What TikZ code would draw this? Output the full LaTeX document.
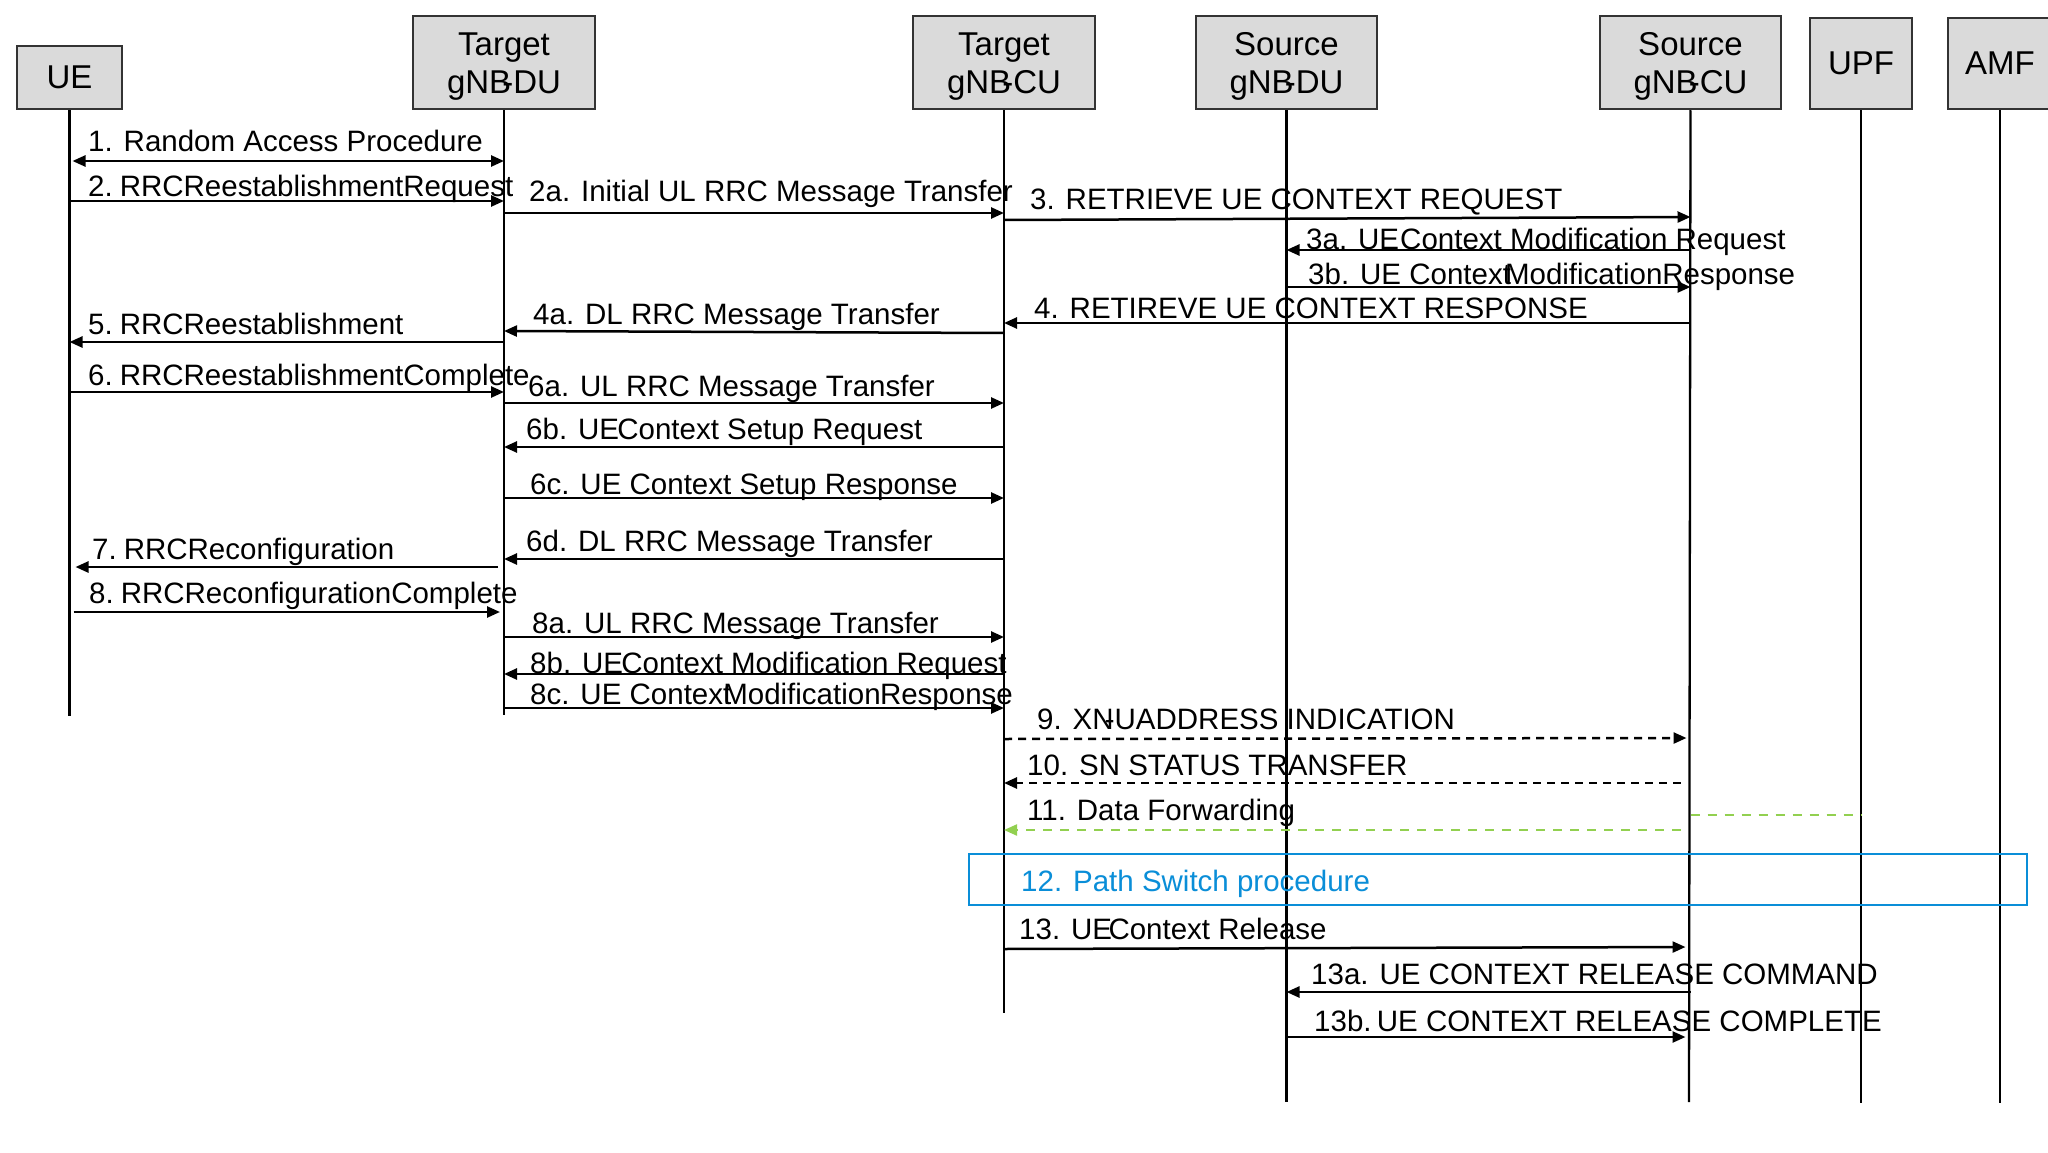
\documentclass[tikz,border=0pt]{standalone}
\usepackage{fontspec}
\setmainfont{Liberation Sans}
\usetikzlibrary{arrows.meta}
\definecolor{boxfill}{HTML}{DADADA}
\definecolor{boxline}{HTML}{333333}
\definecolor{fwdgreen}{HTML}{92D050}
\definecolor{psblue}{HTML}{0A8ED8}
\newcommand{\twoline}[2]{\raisebox{-4pt}[\height][\depth]{\begin{tabular}{@{}c@{}}#1\\#2\end{tabular}}}
\begin{document}
\begin{tikzpicture}[x=1pt,y=-1pt,
  ent/.style={draw=boxline, fill=boxfill, line width=2.5pt, inner sep=0pt, align=center, font=\fontsize{33}{38}\selectfont},
  life/.style={line width=2.3pt},
  msg/.style={line width=2.5pt, -{Triangle[length=13pt,width=11pt]}},
  dmsg/.style={msg, dash pattern=on 8pt off 6pt},
  gmsg/.style={line width=2.2pt, draw=fwdgreen, dash pattern=on 9pt off 8pt, -{Triangle[length=13pt,width=11pt]}},
  lbl/.style={anchor=base west, inner sep=0pt, font=\fontsize{29.5}{32}\selectfont}]
\fill[white] (0,0) rectangle (2048,1153);
\useasboundingbox (0,0) rectangle (2048,1153);

% entities
\node[ent, minimum width=105pt, minimum height=63pt] (ue) at (69.5,77.5) {UE};
\node[ent, minimum width=182pt, minimum height=93pt] (tdu) at (504,62.5) {\twoline{Target}{gNB\kern-0.27em-DU}};
\node[ent, minimum width=182pt, minimum height=93pt] (tcu) at (1004,62.5) {\twoline{Target}{gNB\kern-0.27em-CU}};
\node[ent, minimum width=181pt, minimum height=93pt] (sdu) at (1286.5,62.5) {\twoline{Source}{gNB\kern-0.27em-DU}};
\node[ent, minimum width=181pt, minimum height=93pt] (scu) at (1690.5,62.5) {\twoline{Source}{gNB\kern-0.27em-CU}};
\node[ent, minimum width=102pt, minimum height=91pt] (upf) at (1861,63.5) {UPF};
\node[ent, minimum width=104pt, minimum height=91pt] (amf) at (2000,63.5) {AMF};

% lifelines
\coordinate (ueB) at (ue.south |- 0,716);
\coordinate (tduB) at (tdu.south |- 0,715);
\coordinate (tcuB) at (tcu.south |- 0,1013);
\coordinate (sduB) at (sdu.south |- 0,1102);
\coordinate (scuB) at (1689,1102);
\coordinate (upfB) at (upf.south |- 0,1103);
\coordinate (amfB) at (amf.south |- 0,1103);
\draw[life] (ue.south) -- (ueB);
\draw[life] (tdu.south) -- (tduB);
\draw[life] (tcu.south) -- (tcuB);
\draw[life] (sdu.south) -- (sduB);
\draw[life] (scu.south) -- (scuB);
\draw[life] (upf.south) -- (upfB);
\draw[life] (amf.south) -- (amfB);

% 1
\node[lbl] (l1) at (88,151) {1. Random Access Procedure};
\draw[msg, {Triangle[length=13pt,width=11pt]}-{Triangle[length=13pt,width=11pt]}, shorten <=3pt] (ue |- 0,161) -- (tdu |- 0,161);
% 2
\node[lbl] (l2) at (88,196) {2.\kern-0.04em\ RRCReestablishmentRequest};
\draw[msg] (ue |- 0,201) -- (tdu |- 0,201);
% 2a
\node[lbl] (l2a) at (529,201) {2a. Initial UL RRC Message Transfer};
\draw[msg] (tdu |- 0,213) -- (tcu |- 0,213);
% 3
\node[lbl] (l3) at (1030,209) {3. RETRIEVE UE CONTEXT REQUEST};
\draw[msg] (tcu |- 0,220) -- (scu |- 0,217);
% 3a
\node[lbl] (l3a) at (1306,249) {3a. UE \kern-0.24em Context Modification Request};
\draw[msg] (scu |- 0,250) -- (sdu |- 0,250);
% 3b
\node[lbl] (l3b) at (1308,284) {3b. UE Context \kern-0.48em Modification \kern-0.28em Response};
\draw[msg] (sdu |- 0,287) -- (scu |- 0,287);
% 4
\node[lbl] (l4) at (1034,318) {4. RETIREVE UE CONTEXT RESPONSE};
\draw[msg] (scu |- 0,323) -- (tcu |- 0,323);
% 4a
\node[lbl] (l4a) at (533,324) {4a. DL RRC Message Transfer};
\draw[msg] (tcu |- 0,333) -- (tdu |- 0,331);
% 5
\node[lbl] (l5) at (88,334) {5.\kern-0.04em\ RRCReestablishment};
\draw[msg] (tdu |- 0,342) -- (ue |- 0,342);
% 6
\node[lbl] (l6) at (88,385) {6.\kern-0.04em\ RRCReestablishmentComplete};
\draw[msg] (ue |- 0,392) -- (tdu |- 0,392);
% 6a
\node[lbl] (l6a) at (528,396) {6a. UL RRC Message Transfer};
\draw[msg] (tdu |- 0,403) -- (tcu |- 0,403);
% 6b
\node[lbl] (l6b) at (526,439) {6b. UE \kern-0.34em Context Setup Request};
\draw[msg] (tcu |- 0,447) -- (tdu |- 0,447);
% 6c
\node[lbl] (l6c) at (530,494) {6c. UE Context Setup Response};
\draw[msg] (tdu |- 0,498) -- (tcu |- 0,498);
% 6d
\node[lbl] (l6d) at (526,551) {6d. DL RRC Message Transfer};
\draw[msg] (tcu |- 0,559) -- (tdu |- 0,559);
% 7
\node[lbl] (l7) at (92,559) {7.\kern-0.04em\ RRCReconfiguration};
\draw[msg, shorten <=6pt, shorten >=6pt] (tdu |- 0,567) -- (ue |- 0,567);
% 8
\node[lbl] (l8) at (89,603) {8.\kern-0.04em\ RRCReconfigurationComplete};
\draw[msg, shorten <=4pt, shorten >=4pt] (ue |- 0,612) -- (tdu |- 0,612);
% 8a
\node[lbl] (l8a) at (532,633) {8a. UL RRC Message Transfer};
\draw[msg] (tdu |- 0,637) -- (tcu |- 0,637);
% 8b
\node[lbl] (l8b) at (530,673) {8b. UE \kern-0.34em Context Modification Request};
\draw[msg] (tcu |- 0,674) -- (tdu |- 0,674);
% 8c
\node[lbl] (l8c) at (530,704) {8c. UE Context \kern-0.55em Modification \kern-0.3em Response};
\draw[msg] (tdu |- 0,708) -- (tcu |- 0,708);
% 9
\node[lbl] (l9) at (1037,729) {9. XN\kern-0.3em-U \kern-0.28em ADDRESS INDICATION};
\draw[dmsg, shorten >=4pt] (tcu |- 0,739) -- (scu |- 0,738);
% 10
\node[lbl] (l10) at (1027,775) {10. SN STATUS TRANSFER};
\draw[dmsg, shorten <=10pt] (scu |- 0,783) -- (tcu |- 0,783);
% 11
\node[lbl] (l11) at (1027,820) {11. Data Forwarding};
\draw[line width=2pt, draw=fwdgreen, dash pattern=on 9pt off 8pt] (scu |- 0,815) -- (upf |- 0,815);
\draw[gmsg, shorten <=10pt] (scu |- 0,830) -- (tcu |- 0,830);
% 12
\node[draw=psblue, line width=2.5pt, minimum width=1058pt, minimum height=51pt, inner sep=0pt] (ps) at (1498,879.5) {};
\node[lbl, text=psblue] (l12) at (1021,891) {12. Path Switch procedure};
% 13
\node[lbl] (l13) at (1019,939) {13. UE \kern-0.4em Context Release};
\draw[msg, shorten >=5pt] (tcu |- 0,949) -- (scu |- 0,947);
% 13a
\node[lbl] (l13a) at (1311,984) {13a. UE CONTEXT RELEASE COMMAND};
\draw[msg] (scu |- 0,992) -- (sdu |- 0,992);
% 13b
\node[lbl] (l13b) at (1314,1031) {13b.\kern-0.1em\ UE CONTEXT RELEASE COMPLETE};
\draw[msg, shorten >=5pt] (sdu |- 0,1037) -- (scu |- 0,1037);
\end{tikzpicture}
\end{document}
